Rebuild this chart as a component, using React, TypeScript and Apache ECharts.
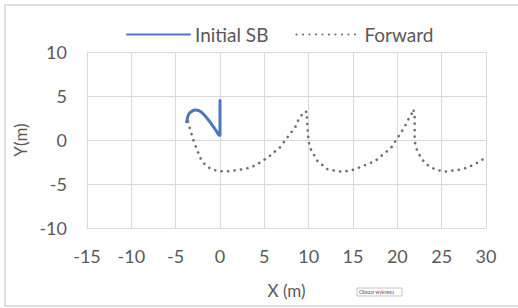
import React, { useEffect, useRef } from "react";
import * as echarts from "echarts";

const initialX = [-3.76, -3.57, -3.3, -2.82, -2.33, -1.88, -1.39, -0.94, -0.49, -0.15, 0, 0];
const initialY = [2.08, 2.84, 3.18, 3.4, 3.3, 2.95, 2.39, 1.78, 1.14, 0.6, 0.55, 4.5];

const forwardX = [
  -3.6, -3.4, -3.0, -2.6, -2.1, -1.5, -0.75, 0.2, 1.0, 1.7, 2.4, 3.4, 4.1, 4.7, 5.5, 6.2, 6.8, 7.3,
  7.9, 8.5, 8.8, 9.2, 9.4, 9.8, 9.8, 9.85, 9.9, 10.0, 10.1, 10.5, 10.9, 11.5, 12.1, 13.0, 13.7, 14.6,
  15.3, 16.1, 16.8, 17.6, 18.2, 18.8, 19.4, 19.8, 20.3, 20.7, 21.1, 21.4, 21.7, 21.8, 21.95, 21.95,
  21.95, 21.95, 22.0, 22.2, 22.6, 23.1, 23.75, 24.5, 25.3, 26.1, 26.9, 27.7, 28.4, 29.2, 30.0,
];
const forwardY = [
  2.1, 1.3, 0, -1.1, -2.3, -3.0, -3.4, -3.55, -3.55, -3.45, -3.35, -3.15, -2.8, -2.45, -1.9, -1.3,
  -0.8, -0.1, 0.7, 1.5, 2.2, 2.8, 3.2, 3.2, 2.5, 1.7, 0.8, 0, -0.8, -1.5, -2.3, -2.8, -3.3, -3.5,
  -3.6, -3.5, -3.3, -2.95, -2.7, -2.3, -1.8, -1.3, -0.75, -0.1, 0.65, 1.3, 2.0, 2.7, 3.1, 3.5, 2.8,
  2.1, 1.2, 0.4, -0.3, -1.1, -1.9, -2.6, -3.1, -3.4, -3.6, -3.5, -3.4, -3.2, -2.9, -2.5, -1.95,
];

const seriesNames = ["Initial SB", "Forward"];
const xAxisName = "X (m)";
const yAxisName = "Y(m)";

const FONT = "Lato, 'Open Sans', sans-serif";
const TEXT = "#595959";
const GRID = "#d9d9d9";

export default function App() {
  const ref = useRef<HTMLDivElement>(null);
  useEffect(() => {
    if (!ref.current) return;
    const chart = echarts.init(ref.current, null, { renderer: "svg" });
    chart.setOption({
      animation: false,
      backgroundColor: "#ffffff",
      textStyle: { fontFamily: FONT, color: TEXT },
      grid: { left: 87, right: 32, top: 52, bottom: 80, containLabel: false },
      legend: {
        left: 121,
        top: 20,
        itemWidth: 63,
        itemHeight: 3,
        itemGap: 27,
        itemStyle: { opacity: 0 },
        textStyle: { fontSize: 19, color: TEXT, fontFamily: FONT },
        data: seriesNames,
      },
      xAxis: {
        type: "value",
        min: -15,
        max: 30,
        interval: 5,
        name: xAxisName,
        nameLocation: "middle",
        nameGap: 54,
        nameTextStyle: { fontSize: 17, color: TEXT, fontFamily: FONT },
        axisLine: { show: true, onZero: false, lineStyle: { color: GRID, width: 1 } },
        axisTick: { show: false },
        axisLabel: { fontSize: 18, color: TEXT, margin: 19, fontFamily: FONT },
        splitLine: { show: true, lineStyle: { color: GRID, width: 1 } },
      },
      yAxis: {
        type: "value",
        min: -10,
        max: 10,
        interval: 5,
        name: yAxisName,
        nameLocation: "middle",
        nameGap: 45,
        nameRotate: 90,
        nameTextStyle: { fontSize: 17, color: TEXT, fontFamily: FONT },
        axisLine: { show: true, onZero: false, lineStyle: { color: GRID, width: 1 } },
        axisTick: { show: false },
        axisLabel: { fontSize: 18, color: TEXT, margin: 20, fontFamily: FONT },
        splitLine: { show: true, lineStyle: { color: GRID, width: 1 } },
      },
      series: [
        {
          name: seriesNames[0],
          type: "line",
          data: initialX.map((x, i) => [x, initialY[i]]),
          showSymbol: false,
          symbol: "none",
          smooth: 0.3,
          lineStyle: { color: "#4a78bd", width: 3, cap: "round", join: "round" },
          itemStyle: { color: "#4a78bd" },
          z: 3,
        },
        {
          name: seriesNames[1],
          type: "line",
          data: forwardX.map((x, i) => [x, forwardY[i]]),
          showSymbol: false,
          symbol: "none",
          clip: true,
          lineStyle: { color: "#6e6e6e", width: 2.6, type: [0.1, 6.4], cap: "round" },
          itemStyle: { color: "#6e6e6e" },
          z: 2,
        },
      ],
      graphic: [
        {
          type: "rect",
          shape: { x: 5, y: 5, width: 530, height: 301 },
          style: { fill: "none", stroke: "#dedede", lineWidth: 2 },
          silent: true,
        },
        {
          type: "rect",
          shape: { x: 357, y: 288, width: 45, height: 8 },
          style: { fill: "#ffffff", stroke: "#9a9a9a", lineWidth: 0.6 },
          silent: true,
        },
        {
          type: "text",
          x: 359,
          y: 289.5,
          style: { text: "Obszar wykresu", fontSize: 5, fill: "#555555", fontFamily: FONT },
          silent: true,
        },
      ],
    });
    return () => chart.dispose();
  }, []);
  return (
    <div
      ref={ref}
      style={{ position: "fixed", left: 0, top: 0, width: 518, height: 308 }}
    />
  );
}
